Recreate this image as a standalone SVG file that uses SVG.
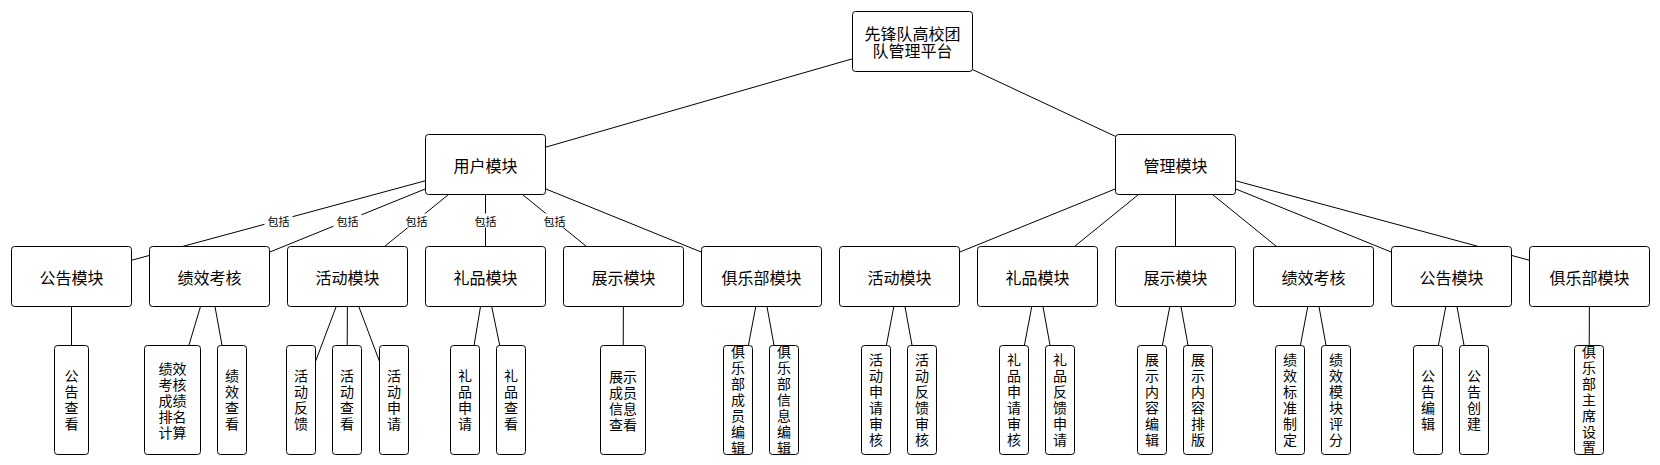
<svg xmlns="http://www.w3.org/2000/svg" width="1660" height="465" viewBox="0 0 1660 465">
<style>
.bg{fill:#ffffff}
.box{fill:#ffffff;stroke:#000000;stroke-width:1}
.t{font-family:"Noto Sans CJK SC","Liberation Sans",sans-serif;font-size:16px;fill:#000000;text-anchor:middle;dominant-baseline:central}
.lt{font-family:"Noto Sans CJK SC","Liberation Sans",sans-serif;font-size:14px;fill:#000000;text-anchor:middle;dominant-baseline:central}
.vt{font-family:"Noto Sans CJK SC","Liberation Sans",sans-serif;font-size:14px;fill:#000000;text-anchor:middle;writing-mode:vertical-rl;letter-spacing:2px}
.edge{stroke:#000000;stroke-width:1;fill:none}
.lbl{font-family:"Noto Sans CJK SC","Liberation Sans",sans-serif;font-size:11px;fill:#000000;text-anchor:middle;dominant-baseline:central}
.lblbg{fill:#ffffff}
</style>
<rect class="bg" x="0" y="0" width="1660" height="465"/>
<g id="connectors">
<line class="edge" x1="852.5" y1="58.78" x2="545.5" y2="147.22"/>
<line class="edge" x1="972.5" y1="69.56" x2="1115.5" y2="136.44"/>
<line class="edge" x1="425.5" y1="180.73" x2="131.5" y2="260.27"/>
<line class="edge" x1="425.5" y1="188.85" x2="269.5" y2="252.15"/>
<line class="edge" x1="448.54" y1="194.5" x2="384.46" y2="246.5"/>
<line class="edge" x1="485.5" y1="194.5" x2="485.5" y2="246.5"/>
<line class="edge" x1="522.46" y1="194.5" x2="586.54" y2="246.5"/>
<line class="edge" x1="545.5" y1="188.85" x2="701.5" y2="252.15"/>
<line class="edge" x1="1115.5" y1="188.85" x2="959.5" y2="252.15"/>
<line class="edge" x1="1138.54" y1="194.5" x2="1074.46" y2="246.5"/>
<line class="edge" x1="1175.5" y1="194.5" x2="1175.5" y2="246.5"/>
<line class="edge" x1="1212.46" y1="194.5" x2="1276.54" y2="246.5"/>
<line class="edge" x1="1235.5" y1="188.85" x2="1391.5" y2="252.15"/>
<line class="edge" x1="1235.5" y1="180.73" x2="1529.5" y2="260.27"/>
<line class="edge" x1="71.5" y1="306.5" x2="71.5" y2="345.5"/>
<line class="edge" x1="200.51" y1="306.5" x2="188.83" y2="345.5"/>
<line class="edge" x1="214.97" y1="306.5" x2="222.07" y2="345.5"/>
<line class="edge" x1="336.21" y1="306.5" x2="315.5" y2="361.49"/>
<line class="edge" x1="347.38" y1="306.5" x2="347.22" y2="345.5"/>
<line class="edge" x1="358.79" y1="306.5" x2="379.5" y2="361.49"/>
<line class="edge" x1="480.52" y1="306.5" x2="474.05" y2="345.5"/>
<line class="edge" x1="491.69" y1="306.5" x2="499.75" y2="345.5"/>
<line class="edge" x1="623.38" y1="306.5" x2="623.22" y2="345.5"/>
<line class="edge" x1="755.79" y1="306.5" x2="748.37" y2="345.5"/>
<line class="edge" x1="766.97" y1="306.5" x2="774.07" y2="345.5"/>
<line class="edge" x1="893.79" y1="306.5" x2="886.37" y2="345.5"/>
<line class="edge" x1="904.97" y1="306.5" x2="912.07" y2="345.5"/>
<line class="edge" x1="1031.79" y1="306.5" x2="1024.37" y2="345.5"/>
<line class="edge" x1="1042.97" y1="306.5" x2="1050.07" y2="345.5"/>
<line class="edge" x1="1169.79" y1="306.5" x2="1162.37" y2="345.5"/>
<line class="edge" x1="1180.97" y1="306.5" x2="1188.07" y2="345.5"/>
<line class="edge" x1="1307.79" y1="306.5" x2="1300.37" y2="345.5"/>
<line class="edge" x1="1318.97" y1="306.5" x2="1326.07" y2="345.5"/>
<line class="edge" x1="1445.79" y1="306.5" x2="1438.37" y2="345.5"/>
<line class="edge" x1="1456.97" y1="306.5" x2="1464.07" y2="345.5"/>
<line class="edge" x1="1589.38" y1="306.5" x2="1589.22" y2="345.5"/>
<g id="edge-labels">
<rect class="lblbg" x="264.5" y="213.5" width="28" height="14"/><text class="lbl" x="278.5" y="220.5">包括</text>
<rect class="lblbg" x="333.5" y="213.5" width="28" height="14"/><text class="lbl" x="347.5" y="220.5">包括</text>
<rect class="lblbg" x="402.5" y="213.5" width="28" height="14"/><text class="lbl" x="416.5" y="220.5">包括</text>
<rect class="lblbg" x="471.5" y="213.5" width="28" height="14"/><text class="lbl" x="485.5" y="220.5">包括</text>
<rect class="lblbg" x="540.5" y="213.5" width="28" height="14"/><text class="lbl" x="554.5" y="220.5">包括</text>
</g>
</g>
<g id="root"><rect class="box" x="852.5" y="11.5" width="120" height="60" rx="3"/><text class="t" x="912.5" y="33">先锋队高校团</text><text class="t" x="912.5" y="50">队管理平台</text></g>
<g id="user"><rect class="box" x="425.5" y="134.5" width="120" height="60" rx="3"/><text class="t" x="485.5" y="164.5">用户模块</text></g>
<g id="admin"><rect class="box" x="1115.5" y="134.5" width="120" height="60" rx="3"/><text class="t" x="1175.5" y="164.5">管理模块</text></g>
<g id="u-notice"><rect class="box" x="11.5" y="246.5" width="120" height="60" rx="3"/><text class="t" x="71.5" y="276.5">公告模块</text></g>
<g id="u-perf"><rect class="box" x="149.5" y="246.5" width="120" height="60" rx="3"/><text class="t" x="209.5" y="276.5">绩效考核</text></g>
<g id="u-act"><rect class="box" x="287.5" y="246.5" width="120" height="60" rx="3"/><text class="t" x="347.5" y="276.5">活动模块</text></g>
<g id="u-gift"><rect class="box" x="425.5" y="246.5" width="120" height="60" rx="3"/><text class="t" x="485.5" y="276.5">礼品模块</text></g>
<g id="u-show"><rect class="box" x="563.5" y="246.5" width="120" height="60" rx="3"/><text class="t" x="623.5" y="276.5">展示模块</text></g>
<g id="u-club"><rect class="box" x="701.5" y="246.5" width="120" height="60" rx="3"/><text class="t" x="761.5" y="276.5">俱乐部模块</text></g>
<g id="a-act"><rect class="box" x="839.5" y="246.5" width="120" height="60" rx="3"/><text class="t" x="899.5" y="276.5">活动模块</text></g>
<g id="a-gift"><rect class="box" x="977.5" y="246.5" width="120" height="60" rx="3"/><text class="t" x="1037.5" y="276.5">礼品模块</text></g>
<g id="a-show"><rect class="box" x="1115.5" y="246.5" width="120" height="60" rx="3"/><text class="t" x="1175.5" y="276.5">展示模块</text></g>
<g id="a-perf"><rect class="box" x="1253.5" y="246.5" width="120" height="60" rx="3"/><text class="t" x="1313.5" y="276.5">绩效考核</text></g>
<g id="a-notice"><rect class="box" x="1391.5" y="246.5" width="120" height="60" rx="3"/><text class="t" x="1451.5" y="276.5">公告模块</text></g>
<g id="a-club"><rect class="box" x="1529.5" y="246.5" width="120" height="60" rx="3"/><text class="t" x="1589.5" y="276.5">俱乐部模块</text></g>
<g id="l-notice-view"><rect class="box" x="54.5" y="345.5" width="34" height="109" rx="3"/><text class="vt" x="71.5" y="401">公告查看</text></g>
<g id="l-perf-rank"><rect class="box" x="144.5" y="345.5" width="56" height="109" rx="3"/><text class="lt"><tspan x="172.5" y="368">绩效</tspan><tspan x="172.5" y="384">考核</tspan><tspan x="172.5" y="400">成绩</tspan><tspan x="172.5" y="416">排名</tspan><tspan x="172.5" y="432">计算</tspan></text></g>
<g id="l-perf-view"><rect class="box" x="217.5" y="345.5" width="29" height="109" rx="3"/><text class="vt" x="232" y="401">绩效查看</text></g>
<g id="l-act-fb"><rect class="box" x="286.5" y="345.5" width="29" height="109" rx="3"/><text class="vt" x="301" y="401">活动反馈</text></g>
<g id="l-act-view"><rect class="box" x="332.5" y="345.5" width="29" height="109" rx="3"/><text class="vt" x="347" y="401">活动查看</text></g>
<g id="l-act-apply"><rect class="box" x="379.5" y="345.5" width="29" height="109" rx="3"/><text class="vt" x="394" y="401">活动申请</text></g>
<g id="l-gift-apply"><rect class="box" x="450.5" y="345.5" width="29" height="109" rx="3"/><text class="vt" x="465" y="401">礼品申请</text></g>
<g id="l-gift-view"><rect class="box" x="496.5" y="345.5" width="29" height="109" rx="3"/><text class="vt" x="511" y="401">礼品查看</text></g>
<g id="l-show-member"><rect class="box" x="600.5" y="345.5" width="45" height="109" rx="3"/><text class="lt"><tspan x="623" y="376">展示</tspan><tspan x="623" y="392">成员</tspan><tspan x="623" y="408">信息</tspan><tspan x="623" y="424">查看</tspan></text></g>
<g id="l-club-member"><rect class="box" x="723.5" y="345.5" width="29" height="109" rx="3"/><text class="vt" x="738" y="401">俱乐部成员编辑</text></g>
<g id="l-club-info"><rect class="box" x="769.5" y="345.5" width="29" height="109" rx="3"/><text class="vt" x="784" y="401">俱乐部信息编辑</text></g>
<g id="l-act-apply-audit"><rect class="box" x="861.5" y="345.5" width="29" height="109" rx="3"/><text class="vt" x="876" y="401">活动申请审核</text></g>
<g id="l-act-fb-audit"><rect class="box" x="907.5" y="345.5" width="29" height="109" rx="3"/><text class="vt" x="922" y="401">活动反馈审核</text></g>
<g id="l-gift-apply-audit"><rect class="box" x="999.5" y="345.5" width="29" height="109" rx="3"/><text class="vt" x="1014" y="401">礼品申请审核</text></g>
<g id="l-gift-fb-apply"><rect class="box" x="1045.5" y="345.5" width="29" height="109" rx="3"/><text class="vt" x="1060" y="401">礼品反馈申请</text></g>
<g id="l-show-edit"><rect class="box" x="1137.5" y="345.5" width="29" height="109" rx="3"/><text class="vt" x="1152" y="401">展示内容编辑</text></g>
<g id="l-show-layout"><rect class="box" x="1183.5" y="345.5" width="29" height="109" rx="3"/><text class="vt" x="1198" y="401">展示内容排版</text></g>
<g id="l-perf-std"><rect class="box" x="1275.5" y="345.5" width="29" height="109" rx="3"/><text class="vt" x="1290" y="401">绩效标准制定</text></g>
<g id="l-perf-score"><rect class="box" x="1321.5" y="345.5" width="29" height="109" rx="3"/><text class="vt" x="1336" y="401">绩效模块评分</text></g>
<g id="l-notice-edit"><rect class="box" x="1413.5" y="345.5" width="29" height="109" rx="3"/><text class="vt" x="1428" y="401">公告编辑</text></g>
<g id="l-notice-create"><rect class="box" x="1459.5" y="345.5" width="29" height="109" rx="3"/><text class="vt" x="1474" y="401">公告创建</text></g>
<g id="l-club-chair"><rect class="box" x="1574.5" y="345.5" width="29" height="109" rx="3"/><text class="vt" x="1589" y="401">俱乐部主席设置</text></g>
</svg>
